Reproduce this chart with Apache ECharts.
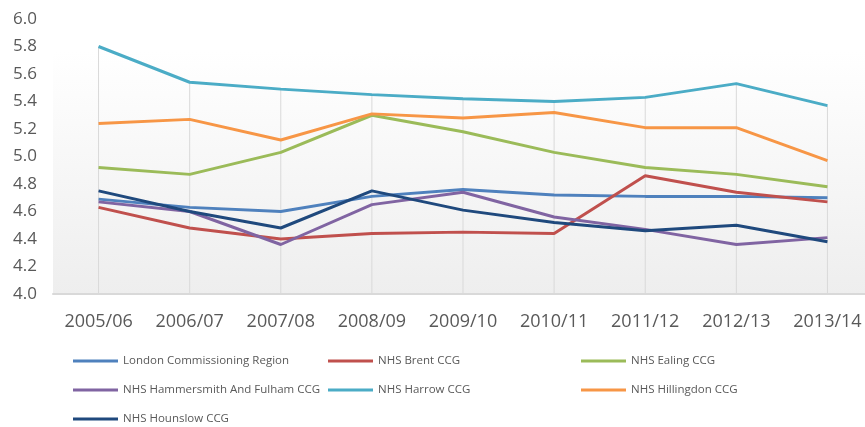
<!DOCTYPE html>
<html>
<head>
<meta charset="utf-8">
<script src="https://cdn.jsdelivr.net/npm/echarts@6/dist/echarts.min.js"></script>
<style>html,body{margin:0;padding:0;background:#fff;}#c{width:865px;height:427px;}</style>
</head>
<body>
<div id="c"></div>
<script>
const categories = ['2005/06','2006/07','2007/08','2008/09','2009/10','2010/11','2011/12','2012/13','2013/14'];
const yTicks = ['4.0','4.2','4.4','4.6','4.8','5.0','5.2','5.4','5.6','5.8','6.0'];

const london      = [4.69, 4.63, 4.60, 4.71, 4.76, 4.72, 4.71, 4.71, 4.70];
const brent       = [4.63, 4.48, 4.40, 4.44, 4.45, 4.44, 4.86, 4.74, 4.67];
const ealing      = [4.92, 4.87, 5.03, 5.30, 5.18, 5.03, 4.92, 4.87, 4.78];
const hammersmith = [4.67, 4.60, 4.36, 4.65, 4.74, 4.56, 4.47, 4.36, 4.41];
const harrow      = [5.80, 5.54, 5.49, 5.45, 5.42, 5.40, 5.43, 5.53, 5.37];
const hillingdon  = [5.24, 5.27, 5.12, 5.31, 5.28, 5.32, 5.21, 5.21, 4.97];
const hounslow    = [4.75, 4.60, 4.48, 4.75, 4.61, 4.52, 4.46, 4.50, 4.38];

const seriesNames = ['London Commissioning Region','NHS Brent CCG','NHS Ealing CCG','NHS Hammersmith And Fulham CCG','NHS Harrow CCG','NHS Hillingdon CCG','NHS Hounslow CCG'];
const seriesData = [london, brent, ealing, hammersmith, harrow, hillingdon, hounslow];
const colors = ['#4F81BD','#C0504D','#9BBB59','#8064A2','#4BACC6','#F79646','#1F497D'];

const dropMax = categories.map((c, i) => Math.max(...seriesData.map(s => s[i])));

const chart = echarts.init(document.getElementById('c'));
const font = '"Liberation Sans Narrow", "Open Sans", sans-serif';

const lineSeries = seriesNames.map((n, k) => ({
  name: n, type: 'line', data: seriesData[k], symbol: 'none',
  lineStyle: { width: 3, color: colors[k] }, itemStyle: { color: colors[k] }, z: 3
}));

const legendCommon = {
  orient: 'vertical', itemWidth: 45, itemHeight: 3, icon: 'rect', itemGap: 15, padding: 0,
  textStyle: { fontFamily: font, fontSize: 11.5, color: '#595959', lineHeight: 14 }
};

chart.setOption({
  animation: false,
  backgroundColor: '#fff',
  graphic: [{
    type: 'rect', z: -1, silent: true,
    shape: { x: 53, y: 51, width: 812, height: 243 },
    style: { fill: new echarts.graphic.LinearGradient(0, 0, 0, 1, [
      { offset: 0, color: '#ffffff' }, { offset: 1, color: '#eeeeee' }]) }
  }],
  grid: { left: 53, top: 19, width: 820, height: 275, containLabel: false, outerBoundsMode: 'none' },
  legend: [
    Object.assign({ left: 73, top: 354, data: [seriesNames[0], seriesNames[3], seriesNames[6]] }, legendCommon),
    Object.assign({ left: 328, top: 354, data: [seriesNames[1], seriesNames[4]] }, legendCommon),
    Object.assign({ left: 581, top: 354, data: [seriesNames[2], seriesNames[5]] }, legendCommon)
  ],
  xAxis: {
    type: 'category', data: categories, boundaryGap: true,
    axisLine: { lineStyle: { color: '#d9d9d9', width: 2 } },
    axisTick: { show: false },
    splitLine: { show: false },
    axisLabel: { fontFamily: font, fontSize: 18, color: '#595959', margin: 19 }
  },
  yAxis: {
    type: 'value', min: 4.0, max: 6.0, interval: 0.2,
    axisLine: { show: false }, axisTick: { show: false }, splitLine: { show: false },
    axisLabel: { fontFamily: font, fontSize: 17, color: '#595959', margin: 16,
      formatter: v => yTicks[Math.round((v - 4.0) / 0.2)] }
  },
  series: [{
    type: 'custom', silent: true, z: 1,
    data: dropMax.map((m, i) => [i, m]),
    renderItem: (params, api) => {
      const top = api.coord([api.value(0), api.value(1)]);
      const bot = api.coord([api.value(0), 4.0]);
      return { type: 'line', shape: { x1: top[0], y1: top[1], x2: bot[0], y2: bot[1] },
        style: { stroke: '#d9d9d9', lineWidth: 1 } };
    }
  }].concat(lineSeries)
});
</script>
</body>
</html>
